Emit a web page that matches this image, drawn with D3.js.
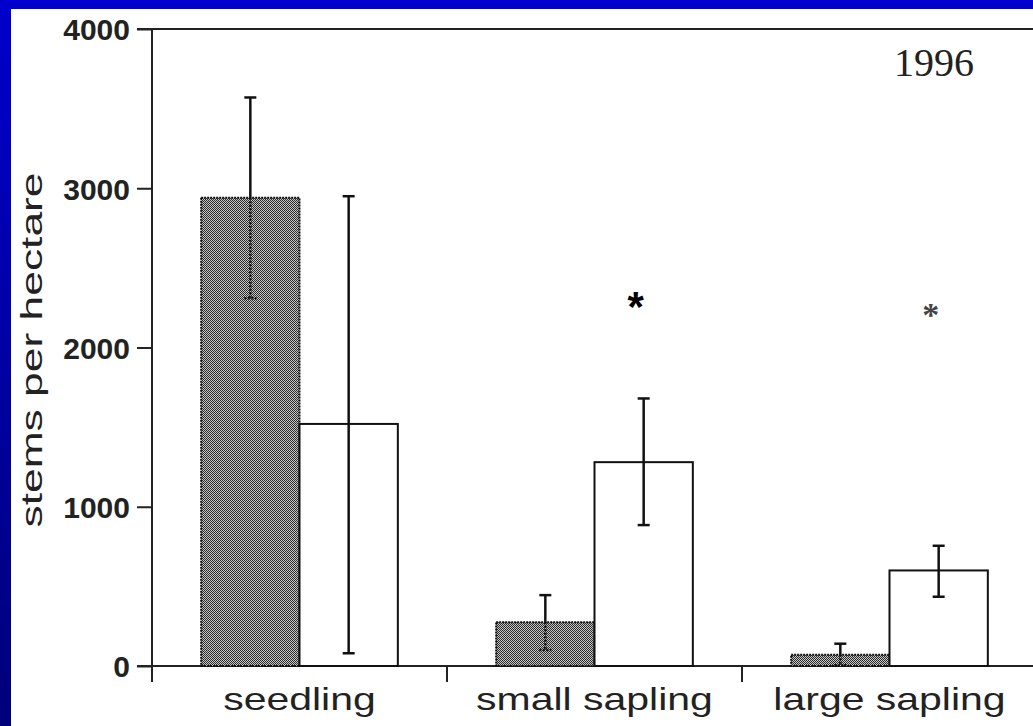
<!DOCTYPE html>
<html><head><meta charset="utf-8">
<script src="https://cdn.jsdelivr.net/npm/d3@7"></script>
<style>html,body{margin:0;padding:0;background:#fff;overflow:hidden}</style>
</head><body>
<svg id="c" width="1033" height="726"></svg>
<script>
const categories = ["seedling", "small sapling", "large sapling"];
const shadedMean  = [2940, 275, 70];
const shadedLow   = [2310, 100, 5];
const shadedHigh  = [3570, 445, 140];
const openMean    = [1520, 1280, 600];
const openLow     = [80, 885, 435];
const openHigh    = [2950, 1680, 755];
const yTicks = [0, 1000, 2000, 3000, 4000];
const yTitle = "stems per hectare";
const yearLabel = "1996";
const marks = [{cat: "small sapling", v: 2330, style: "bold"}, {cat: "large sapling", v: 2270, style: "serif"}];

const svg = d3.select("#c");
const W = 1033, H = 726;

const defs = svg.append("defs");
const lg = defs.append("linearGradient").attr("id","bg").attr("x1",0).attr("y1",0).attr("x2",0).attr("y2",1);
lg.append("stop").attr("offset","0%").attr("stop-color","#0000cc");
lg.append("stop").attr("offset","100%").attr("stop-color","#00007a");
svg.append("rect").attr("x",0).attr("y",0).attr("width",W).attr("height",H).attr("fill","url(#bg)");
svg.append("rect").attr("x",0).attr("y",0).attr("width",W).attr("height",9).attr("fill","#0000cc");
svg.append("rect").attr("x",11).attr("y",9).attr("width",W-11).attr("height",H-9).attr("fill","#fff");

const pat = defs.append("pattern").attr("id","dots").attr("patternUnits","userSpaceOnUse").attr("width",2).attr("height",2);
pat.append("rect").attr("width",2).attr("height",2).attr("fill","#c4c4c4");
pat.append("rect").attr("x",0).attr("y",0).attr("width",1).attr("height",1).attr("fill","#2e2e2e");
pat.append("rect").attr("x",1).attr("y",1).attr("width",1).attr("height",1).attr("fill","#2e2e2e");

const y = d3.scaleLinear().domain([0, 4000]).range([666, 29]);
const x = d3.scaleBand().domain(categories).range([152, 1037]).paddingInner(0).paddingOuter(0);
const sub = d3.scaleBand().domain(["s","o"]).range([0, x.bandwidth()]).paddingOuter(0.5).paddingInner(0);

svg.append("line").attr("x1",137).attr("x2",W).attr("y1",y(4000)).attr("y2",y(4000)).attr("stroke","#222").attr("stroke-width",2);
svg.append("line").attr("x1",137).attr("x2",W).attr("y1",y(0)).attr("y2",y(0)).attr("stroke","#222").attr("stroke-width",2);

const yAxis = d3.axisLeft(y).tickValues(yTicks).tickSize(15).tickPadding(7).tickFormat(d3.format("d"));
const ya = svg.append("g").attr("transform","translate(152,0)").call(yAxis);
ya.select(".domain").attr("d", `M0,${y(4000)}V${y(0)+16}`).attr("stroke","#222").attr("stroke-width",2);
ya.selectAll(".tick line").attr("stroke","#222").attr("stroke-width",2);
ya.selectAll(".tick text").attr("font-family","'Liberation Sans', Arial, sans-serif").attr("font-weight","bold")
  .attr("font-size",30).attr("fill","#222").attr("dy","0.36em");

svg.selectAll("line.sep").data(categories.slice(1)).join("line")
  .attr("x1", d => x(d)).attr("x2", d => x(d)).attr("y1", y(0)).attr("y2", y(0)+16)
  .attr("stroke","#222").attr("stroke-width",2);

const rows = categories.map((c,i) => ({c, sm: shadedMean[i], sl: shadedLow[i], sh: shadedHigh[i], om: openMean[i], ol: openLow[i], oh: openHigh[i]}));
const bw = sub.bandwidth();
svg.selectAll("rect.sh").data(rows).join("rect")
  .attr("x", d => x(d.c) + sub("s")).attr("width", bw)
  .attr("y", d => y(d.sm)).attr("height", d => y(0) - y(d.sm))
  .attr("fill","url(#dots)").attr("stroke","#111").attr("stroke-width",2).attr("stroke-dasharray","2,1");
svg.selectAll("rect.op").data(rows).join("rect")
  .attr("x", d => x(d.c) + sub("o")).attr("width", bw)
  .attr("y", d => y(d.om)).attr("height", d => y(0) - y(d.om))
  .attr("fill","#fff").attr("stroke","#111").attr("stroke-width",2);

const cap = 6;
function errbar(cx, m, lo, hi, dottedLower) {
  const eg = svg.append("g").attr("stroke","#111").attr("stroke-width",2.5);
  eg.append("line").attr("x1",cx).attr("x2",cx).attr("y1",y(hi)).attr("y2",y(m));
  eg.append("line").attr("x1",cx).attr("x2",cx).attr("y1",y(m)).attr("y2",y(lo)).attr("stroke-dasharray", dottedLower ? "2,1.5" : null);
  eg.append("line").attr("x1",cx-cap).attr("x2",cx+cap).attr("y1",y(hi)).attr("y2",y(hi));
  eg.append("line").attr("x1",cx-cap).attr("x2",cx+cap).attr("y1",y(lo)).attr("y2",y(lo)).attr("stroke-dasharray", dottedLower ? "2,1.5" : null);
}
rows.forEach(d => {
  errbar(x(d.c) + sub("s") + bw/2, d.sm, d.sl, d.sh, true);
  errbar(x(d.c) + sub("o") + bw/2, d.om, d.ol, d.oh, false);
});

svg.selectAll("text.cat").data(categories).join("text")
  .attr("x", d => x(d) + x.bandwidth()/2).attr("y", 710)
  .attr("text-anchor","middle").attr("font-family","'Liberation Sans', Arial, sans-serif")
  .attr("font-size",32).attr("fill","#222").text(d => d)
  .each(function(){ const L = this.getComputedTextLength(); d3.select(this).attr("textLength", L*1.28).attr("lengthAdjust","spacingAndGlyphs"); });

svg.append("text").attr("transform","translate(42,350) rotate(-90)").attr("text-anchor","middle")
  .attr("font-family","'Liberation Sans', Arial, sans-serif").attr("font-size",29).attr("fill","#222")
  .attr("textLength",355).attr("lengthAdjust","spacingAndGlyphs").text(yTitle);

svg.append("text").attr("x",934).attr("y",76).attr("text-anchor","middle")
  .attr("font-family","'Liberation Serif', 'Times New Roman', serif").attr("font-size",40).attr("fill","#222").text(yearLabel);

marks.forEach(m => {
  const t = svg.append("text").attr("x", x(m.cat) + sub("o") + bw/2 - 8).attr("y", y(m.v))
    .attr("text-anchor","middle").text("*");
  if (m.style === "bold") t.attr("font-family","'Liberation Sans', Arial, sans-serif").attr("font-weight","bold").attr("font-size",42).attr("fill","#000").attr("dy","0.62em");
  else t.attr("font-family","'Liberation Serif', serif").attr("font-weight","bold").attr("font-size",34).attr("fill","#444").attr("dy","0.62em");
});
</script>
</body></html>
